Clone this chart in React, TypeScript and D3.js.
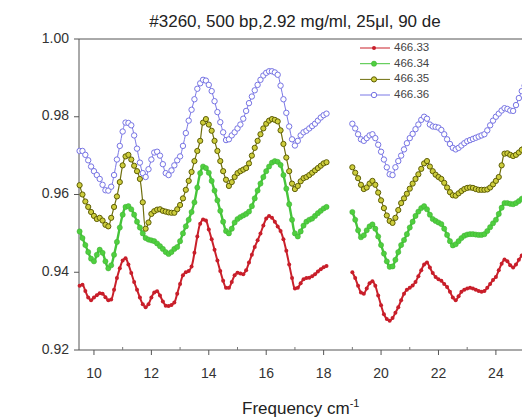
import React from 'react';
import * as d3 from 'd3';

const TITLE = '#3260, 500 bp,2.92 mg/ml, 25\u03bcl, 90 de';
const X_LABEL = 'Frequency cm';
const X_LABEL_SUP = '-1';
const SERIES_NAMES = ['466.33', '466.34', '466.35', '466.36'];
const Y_TICKS = [0.92, 0.94, 0.96, 0.98, 1.0];
const X_TICKS = [10, 12, 14, 16, 18, 20, 22, 24];
const X_MINOR = [11, 13, 15, 17, 19, 21, 23, 25];

// sampling grid of the two measured segments (cm^-1)
const LEFT_START = 9.5;
const RIGHT_START = 19.0;
const STEP = 0.1;

const RED_LEFT = [
  .9365, .9368, .9352, .9335, .9328, .9335, .9341, .9346, .9345, .9336,
  .9328, .9330, .9355, .9385, .9410, .9430, .9436, .9420, .9398, .9375,
  .9355, .9335, .9318, .9310, .9318, .9335, .9348, .9351, .9340, .9325,
  .9314, .9313, .9316, .9322, .9345, .9370, .9392, .9400, .9403, .9415,
  .9450, .9492, .9525, .9536, .9533, .9510, .9485, .9458, .9430, .9403,
  .9378, .9360, .9360, .9375, .9392, .9399, .9397, .9395, .9405, .9425,
  .9445, .9465, .9482, .9500, .9520, .9538, .9545, .9540, .9530, .9518,
  .9506, .9485, .9455, .9420, .9385, .9358, .9360, .9372, .9382, .9385,
  .9386, .9390, .9395, .9402, .9408, .9413, .9416,
];
const RED_RIGHT = [
  .9400, .9385, .9365, .9348, .9345, .9358, .9372, .9377, .9365, .9340,
  .9315, .9292, .9280, .9275, .9282, .9296, .9310, .9328, .9345, .9355,
  .9360, .9366, .9375, .9390, .9405, .9420, .9425, .9412, .9398, .9388,
  .9382, .9378, .9370, .9362, .9350, .9335, .9328, .9338, .9350, .9355,
  .9358, .9360, .9358, .9355, .9352, .9350, .9352, .9360, .9370, .9380,
  .9388, .9405, .9422, .9433, .9428, .9418, .9412, .9420, .9432, .9443,
  .9452,
];

const GREEN_LEFT = [
  .9505, .9488, .9470, .9452, .9435, .9428, .9445, .9458, .9450, .9428,
  .9410, .9418, .9445, .9478, .9515, .9548, .9568, .9570, .9562, .9548,
  .9530, .9515, .9500, .9488, .9484, .9482, .9480, .9474, .9467, .9460,
  .9452, .9447, .9452, .9460, .9465, .9480, .9500, .9518, .9535, .9555,
  .9580, .9618, .9655, .9672, .9668, .9656, .9635, .9610, .9585, .9558,
  .9530, .9506, .9500, .9512, .9528, .9537, .9542, .9546, .9550, .9556,
  .9570, .9590, .9610, .9628, .9645, .9660, .9672, .9682, .9686, .9684,
  .9676, .9650, .9615, .9575, .9535, .9500, .9492, .9505, .9520, .9530,
  .9535, .9538, .9545, .9552, .9558, .9564, .9568,
];
const GREEN_RIGHT = [
  .9555, .9535, .9508, .9490, .9495, .9508, .9518, .9523, .9512, .9492,
  .9470, .9448, .9428, .9414, .9415, .9432, .9452, .9470, .9483, .9498,
  .9515, .9530, .9545, .9556, .9565, .9570, .9562, .9548, .9537, .9532,
  .9528, .9524, .9512, .9496, .9480, .9469, .9472, .9480, .9488, .9494,
  .9497, .9498, .9498, .9497, .9496, .9496, .9498, .9506, .9516, .9526,
  .9535, .9550, .9566, .9578, .9578, .9576, .9575, .9578, .9583, .9589,
  .9594,
];

const OLIVE_LEFT = [
  .9624, .9600, .9582, .9568, .9555, .9545, .9537, .9540, .9533, .9522,
  .9518, .9540, .9568, .9595, .9632, .9675, .9698, .9702, .9690, .9674,
  .9660, .9640, .9580, .9512, .9528, .9550, .9557, .9561, .9562, .9558,
  .9556, .9554, .9553, .9553, .9562, .9573, .9590, .9612, .9635, .9658,
  .9686, .9712, .9738, .9785, .9794, .9780, .9764, .9738, .9712, .9686,
  .9660, .9638, .9622, .9632, .9645, .9655, .9660, .9664, .9668, .9680,
  .9700, .9720, .9738, .9755, .9770, .9782, .9790, .9794, .9792, .9788,
  .9765, .9730, .9695, .9660, .9628, .9614, .9622, .9634, .9642, .9645,
  .9650, .9656, .9662, .9668, .9674, .9680, .9683,
];
const OLIVE_RIGHT = [
  .9670, .9656, .9642, .9625, .9614, .9618, .9628, .9635, .9625, .9605,
  .9585, .9565, .9546, .9532, .9527, .9540, .9560, .9578, .9590, .9602,
  .9615, .9628, .9640, .9652, .9666, .9680, .9686, .9672, .9660, .9651,
  .9645, .9640, .9630, .9618, .9606, .9598, .9597, .9603, .9609, .9614,
  .9617, .9618, .9617, .9614, .9612, .9612, .9612, .9613, .9618, .9626,
  .9635, .9645, .9675, .9705, .9706, .9702, .9699, .9702, .9708, .9715,
  .9722,
];

const BLUE_LEFT = [
  .9712, .9712, .9702, .9688, .9672, .9660, .9650, .9640, .9625, .9611,
  .9610, .9620, .9650, .9690, .9725, .9762, .9785, .9784, .9778, .9752,
  .9718, .9682, .9655, .9645, .9665, .9690, .9708, .9710, .9700, .9678,
  .9655, .9650, .9662, .9675, .9688, .9698, .9725, .9758, .9790, .9818,
  .9845, .9872, .9886, .9895, .9893, .9882, .9866, .9840, .9812, .9786,
  .9760, .9740, .9742, .9752, .9760, .9770, .9780, .9795, .9815, .9835,
  .9852, .9868, .9882, .9895, .9906, .9913, .9917, .9917, .9914, .9908,
  .9880, .9845, .9810, .9775, .9742, .9726, .9738, .9752, .9760, .9764,
  .9770, .9776, .9782, .9790, .9798, .9804, .9808,
];
const BLUE_RIGHT = [
  .9782, .9770, .9755, .9742, .9738, .9745, .9752, .9755, .9745, .9728,
  .9710, .9690, .9670, .9652, .9650, .9670, .9686, .9700, .9716, .9732,
  .9745, .9756, .9768, .9780, .9792, .9800, .9795, .9780, .9775, .9774,
  .9772, .9766, .9755, .9742, .9730, .9720, .9716, .9720, .9726, .9732,
  .9737, .9740, .9743, .9746, .9749, .9752, .9755, .9765, .9778, .9790,
  .9800, .9808, .9816, .9822, .9820, .9816, .9815, .9830, .9848, .9866,
  .9880,
];

type Style = { line: string; lw: number; r: number; fill: string; stroke: string; sw: number };
const STYLES: Style[] = [
  { line: '#c9202a', lw: 2, r: 2, fill: '#c81e2a', stroke: 'none', sw: 0 },
  { line: '#45c43a', lw: 2.4, r: 2.6, fill: '#4fcf3f', stroke: '#3fae32', sw: 0.5 },
  { line: '#6e6e0c', lw: 1.2, r: 2.6, fill: '#cdcd3c', stroke: '#5e5e06', sw: 1 },
  { line: '#7b78e6', lw: 1, r: 2.7, fill: '#ffffff', stroke: '#7774e4', sw: 1 },
];

const toPts = (arr: number[], start: number): [number, number][] =>
  arr.map((v, i) => [start + i * STEP, v]);

export default function App() {
  const W = 522, H = 418;
  const x = d3.scaleLinear().domain([9.5, 26]).range([79.6, 79.6 + 16.5 * 28.71]);
  const y = d3.scaleLinear().domain([0.92, 1.0]).range([350, 39]);
  const line = d3.line<[number, number]>().x(d => x(d[0])).y(d => y(d[1])).curve(d3.curveCatmullRom);

  const series = [
    [RED_LEFT, RED_RIGHT],
    [GREEN_LEFT, GREEN_RIGHT],
    [OLIVE_LEFT, OLIVE_RIGHT],
    [BLUE_LEFT, BLUE_RIGHT],
  ].map(([l, r], i) => ({
    name: SERIES_NAMES[i],
    segs: [toPts(l, LEFT_START), toPts(r, RIGHT_START)],
    st: STYLES[i],
  }));

  const x0 = 79, yTop = 39, yBot = 350;
  const font = "'Liberation Sans', Arial, Helvetica, sans-serif";
  const legendY = [48, 63.7, 79.4, 95];

  return (
    <svg width={W} height={H} style={{ position: 'absolute', left: 0, top: 0, background: '#fff' }} fontFamily={font}>
      <text x={295} y={27} fontSize={17} textAnchor="middle" fill="#222">{TITLE}</text>

      {/* frame */}
      <line x1={x0} x2={W} y1={yTop} y2={yTop} stroke="#555" strokeWidth={1} />
      <line x1={x0} x2={x0} y1={yTop} y2={yBot} stroke="#555" strokeWidth={1} />
      <line x1={x0} x2={W} y1={yBot} y2={yBot} stroke="#555" strokeWidth={1} />

      {Y_TICKS.map(t => (
        <g key={t}>
          <line x1={x0 - 5} x2={x0} y1={y(t)} y2={y(t)} stroke="#555" />
          <text x={69} y={y(t)} fontSize={14} textAnchor="end" dominantBaseline="middle" fill="#333">{t.toFixed(2)}</text>
        </g>
      ))}
      {X_TICKS.map(t => (
        <g key={t}>
          <line x1={x(t)} x2={x(t)} y1={yBot} y2={yBot + 5} stroke="#555" />
          <text x={x(t)} y={yBot + 28} fontSize={14} textAnchor="middle" fill="#333">{t}</text>
        </g>
      ))}
      {X_MINOR.map(t => (
        <line key={t} x1={x(t)} x2={x(t)} y1={yBot} y2={yBot - 3} stroke="#777" />
      ))}

      <text x={242} y={414} fontSize={17} fill="#222">
        {X_LABEL}
        <tspan dy={-7} fontSize={11}>{X_LABEL_SUP}</tspan>
      </text>

      {series.map(s => (
        <g key={s.name}>
          {s.segs.map((seg, k) => (
            <g key={k}>
              <path d={line(seg) || ''} fill="none" stroke={s.st.line} strokeWidth={s.st.lw} />
              {seg.map((p, j) => (
                <circle key={j} cx={x(p[0])} cy={y(p[1])} r={s.st.r} fill={s.st.fill} stroke={s.st.stroke} strokeWidth={s.st.sw} />
              ))}
            </g>
          ))}
        </g>
      ))}

      {series.map((s, i) => (
        <g key={'lg' + s.name}>
          <line x1={360} x2={390} y1={legendY[i]} y2={legendY[i]} stroke={s.st.line} strokeWidth={1} />
          <circle cx={374} cy={legendY[i]} r={s.st.r} fill={s.st.fill} stroke={s.st.stroke} strokeWidth={s.st.sw} />
          <text x={394} y={legendY[i]} fontSize={11.5} dominantBaseline="middle" fill="#444">{s.name}</text>
        </g>
      ))}
    </svg>
  );
}
